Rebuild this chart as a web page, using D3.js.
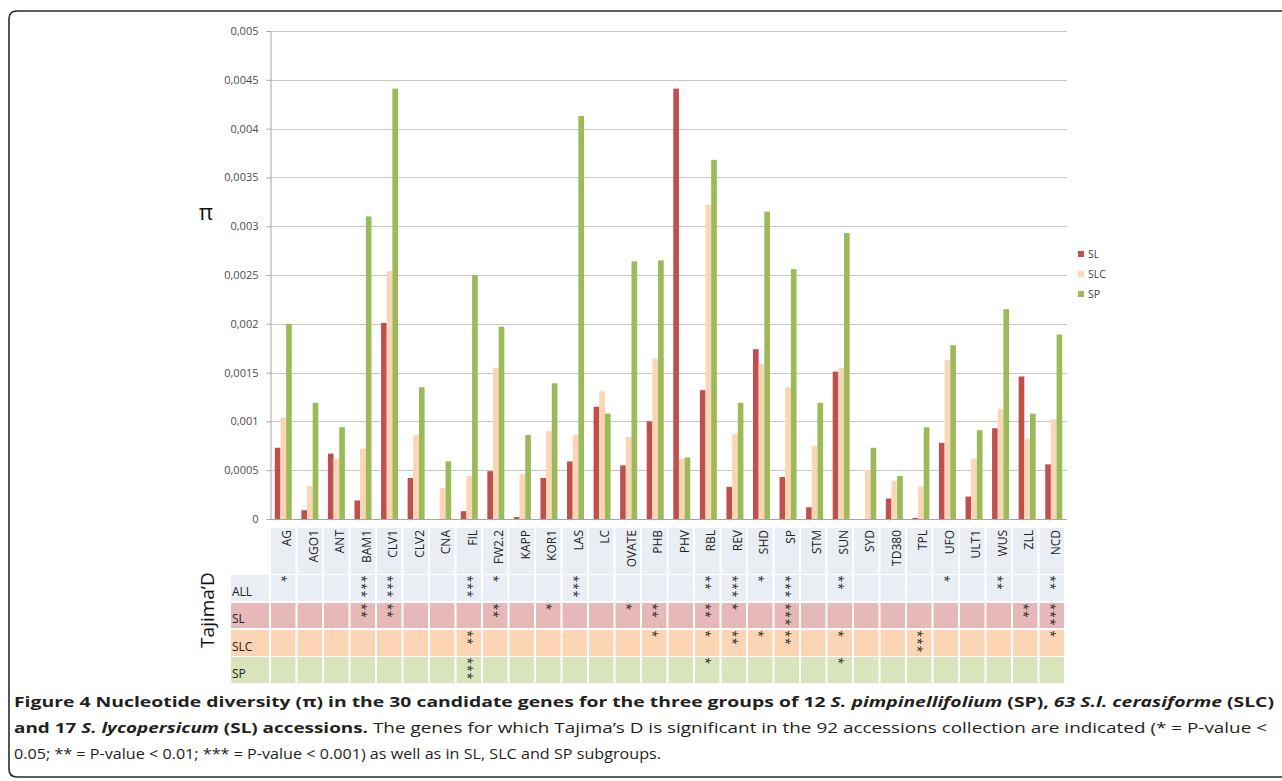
<!DOCTYPE html>
<html><head><meta charset="utf-8">
<script src="https://cdn.jsdelivr.net/npm/d3@7"></script>
<style>
body{margin:0;background:#fff;}
svg{display:block;}
</style></head>
<body>
<svg id="chart" width="1282" height="781"></svg>
<script>
const genes = ["AG","AGO1","ANT","BAM1","CLV1","CLV2","CNA","FIL","FW2.2","KAPP","KOR1","LAS","LC","OVATE","PHB","PHV","RBL","REV","SHD","SP","STM","SUN","SYD","TD380","TPL","UFO","ULT1","WUS","ZLL","NCD"];
const seriesNames = ["SL","SLC","SP"];
const piSL  = [0.00073,0.00009,0.00067,0.00019,0.00201,0.00042,0,0.00008,0.00049,0.00002,0.00042,0.00059,0.00115,0.00055,0.00100,0.00441,0.00132,0.00033,0.00174,0.00043,0.00012,0.00151,0,0.00021,0.00001,0.00078,0.00023,0.00093,0.00146,0.00056];
const piSLC = [0.00104,0.00034,0.00062,0.00072,0.00254,0.00086,0.00032,0.00044,0.00155,0.00046,0.00090,0.00086,0.00131,0.00084,0.00164,0.00062,0.00322,0.00087,0.00159,0.00135,0.00075,0.00155,0.00050,0.00039,0.00033,0.00163,0.00062,0.00113,0.00082,0.00102];
const piSP  = [0.00200,0.00119,0.00094,0.00310,0.00441,0.00135,0.00059,0.00250,0.00197,0.00086,0.00139,0.00413,0.00108,0.00264,0.00265,0.00063,0.00368,0.00119,0.00315,0.00256,0.00119,0.00293,0.00073,0.00044,0.00094,0.00178,0.00091,0.00215,0.00108,0.00189];
const yTicks = [0,0.0005,0.001,0.0015,0.002,0.0025,0.003,0.0035,0.004,0.0045,0.005];
const yTickLabels = ["0","0,0005","0,001","0,0015","0,002","0,0025","0,003","0,0035","0,004","0,0045","0,005"];
// Tajima's D significance (number of stars)
const tajimaRows = ["ALL","SL","SLC","SP"];
const starsALL = [1,0,0,3,3,0,0,3,1,0,0,3,0,0,0,0,2,3,1,3,0,2,0,0,0,1,0,2,0,2];
const starsSL  = [0,0,0,2,2,0,0,0,2,0,1,0,0,1,2,0,2,1,0,3,0,0,0,0,0,0,0,0,2,3];
const starsSLC = [0,0,0,0,0,0,0,2,0,0,0,0,0,0,1,0,1,2,1,2,0,1,0,0,3,0,0,0,0,1];
const starsSP  = [0,0,0,0,0,0,0,3,0,0,0,0,0,0,0,0,1,0,0,0,0,1,0,0,0,0,0,0,0,0];

const seriesColor = {SL:"#c0504d", SLC:"#fcd5b5", SP:"#9bbb59"};
const rowFill = {HEAD:"#e9edf4", ALL:"#e9edf4", SL:"#e6b9b8", SLC:"#fcd5b4", SP:"#d8e4bc"};

const svg = d3.select("#chart");
const font = "'Open Sans', sans-serif";

// frame
svg.append("path")
  .attr("d","M1290,11 L17,11 Q9,11 9,19 L9,769 Q9,777 17,777 L1290,777")
  .attr("fill","none").attr("stroke","#2b2b2b").attr("stroke-width",1.6);

// scales
const x0 = d3.scaleBand().domain(genes).range([270,1067]);
const bw = x0.bandwidth();
const x1 = d3.scaleBand().domain(seriesNames).range([bw*0.18, bw*0.82]);
const y = d3.scaleLinear().domain([0,0.005]).range([519,31]);

// gridlines
svg.append("g").selectAll("line").data(yTicks.slice(1)).join("line")
  .attr("x1",270).attr("x2",1067)
  .attr("y1",d=>Math.round(y(d))+0.5).attr("y2",d=>Math.round(y(d))+0.5)
  .attr("stroke","#c6c6c6").attr("stroke-width",1);

// y axis
const yAxis = d3.axisLeft(y).tickValues(yTicks)
  .tickFormat((d,i)=>yTickLabels[i]).tickSize(4).tickPadding(8);
const gy = svg.append("g").attr("transform","translate(270.5,0)").call(yAxis);
gy.select(".domain").attr("stroke","#a6a6a6");
gy.selectAll(".tick line").attr("stroke","#a6a6a6");
gy.selectAll(".tick text").attr("font-family",font).attr("font-size",11).attr("fill","#4d4d4d");

// x baseline
svg.append("line").attr("x1",270).attr("x2",1067).attr("y1",519.5).attr("y2",519.5)
  .attr("stroke","#a6a6a6");

// bars
const seriesData = {SL:piSL, SLC:piSLC, SP:piSP};
const gBars = svg.append("g");
genes.forEach((g,i)=>{
  seriesNames.forEach(s=>{
    const v = seriesData[s][i];
    if (v<=0) return;
    gBars.append("rect")
      .attr("x", x0(g)+x1(s)).attr("width", x1.bandwidth())
      .attr("y", y(v)).attr("height", y(0)-y(v))
      .attr("fill", seriesColor[s]);
  });
});

// pi label
svg.append("text").attr("x",206).attr("y",220).attr("text-anchor","middle")
  .attr("font-family",font).attr("font-size",22).attr("fill","#111").text("π");

// legend
const leg = svg.append("g");
seriesNames.forEach((s,i)=>{
  const cy = 254 + i*20;
  leg.append("rect").attr("x",1078).attr("y",cy-3).attr("width",6).attr("height",6).attr("fill",seriesColor[s]);
  leg.append("text").attr("x",1088).attr("y",cy).attr("dy","0.35em")
    .attr("font-family",font).attr("font-size",10.5).attr("fill","#404040").text(s);
});

// Table
const tx = d3.scaleBand().domain(genes).range([270,1065]);
const tbw = tx.bandwidth();
const rowsY = {HEAD:[528,574], ALL:[575,601], SL:[603,628], SLC:[630,656], SP:[657,683]};
const tbl = svg.append("g");
// header cells
genes.forEach(g=>{
  tbl.append("rect").attr("x",tx(g)+1).attr("y",rowsY.HEAD[0]).attr("width",tbw-2)
    .attr("height",rowsY.HEAD[1]-rowsY.HEAD[0]).attr("fill",rowFill.HEAD);
  tbl.append("text")
    .attr("transform",`translate(${tx(g)+tbw/2+8},${rowsY.HEAD[0]+2}) rotate(-90)`)
    .attr("text-anchor","end").attr("font-family",font).attr("font-size",12)
    .attr("fill","#222").text(g);
});
const starData = {ALL:starsALL, SL:starsSL, SLC:starsSLC, SP:starsSP};
tajimaRows.forEach(r=>{
  const [y0r,y1r] = rowsY[r];
  tbl.append("rect").attr("x",231).attr("y",y0r).attr("width",38).attr("height",y1r-y0r).attr("fill",rowFill[r]);
  tbl.append("text").attr("x",232).attr("y",y1r-5).attr("font-family",font).attr("font-size",12)
    .attr("fill","#222").text(r);
  genes.forEach((g,i)=>{
    tbl.append("rect").attr("x",tx(g)+1).attr("y",y0r).attr("width",tbw-2)
      .attr("height",y1r-y0r).attr("fill",rowFill[r]);
    const n = starData[r][i];
    if (n>0){
      const cx = tx(g)+tbw/2+1;
      tbl.append("text")
        .attr("transform",`translate(${cx-6.8},${y0r+0.5}) rotate(90)`)
        .attr("font-family",font).attr("font-size",12).attr("letter-spacing",1)
        .attr("fill","#222").text("*".repeat(n));
    }
  });
});
// Tajima'D label
svg.append("text").attr("transform","translate(214,610) rotate(-90)")
  .attr("text-anchor","middle").attr("font-family",font).attr("font-size",19)
  .attr("fill","#111").text("Tajima’D");

// caption
const cap = svg.append("g").attr("font-family",font).attr("font-size",15).attr("fill","#231f20");
const l1 = cap.append("text").attr("x",14).attr("y",707).attr("textLength",1260).attr("lengthAdjust","spacingAndGlyphs");
l1.append("tspan").attr("font-weight","bold").text("Figure 4 Nucleotide diversity (π) in the 30 candidate genes for the three groups of 12 ");
l1.append("tspan").attr("font-weight","bold").attr("font-style","italic").text("S. pimpinellifolium");
l1.append("tspan").attr("font-weight","bold").text(" (SP), ");
l1.append("tspan").attr("font-weight","bold").attr("font-style","italic").text("63 S.l. cerasiforme");
l1.append("tspan").attr("font-weight","bold").text(" (SLC)");
const l2 = cap.append("text").attr("x",14).attr("y",733).attr("textLength",1253).attr("lengthAdjust","spacingAndGlyphs");
l2.append("tspan").attr("font-weight","bold").text("and 17 ");
l2.append("tspan").attr("font-weight","bold").attr("font-style","italic").text("S. lycopersicum");
l2.append("tspan").attr("font-weight","bold").text(" (SL) accessions.");
l2.append("tspan").text(" The genes for which Tajima’s D is significant in the 92 accessions collection are indicated (* = P-value <");
cap.append("text").attr("x",14).attr("y",759).attr("textLength",647).attr("lengthAdjust","spacingAndGlyphs")
  .text("0.05; ** = P-value < 0.01; *** = P-value < 0.001) as well as in SL, SLC and SP subgroups.");
</script>
</body></html>
